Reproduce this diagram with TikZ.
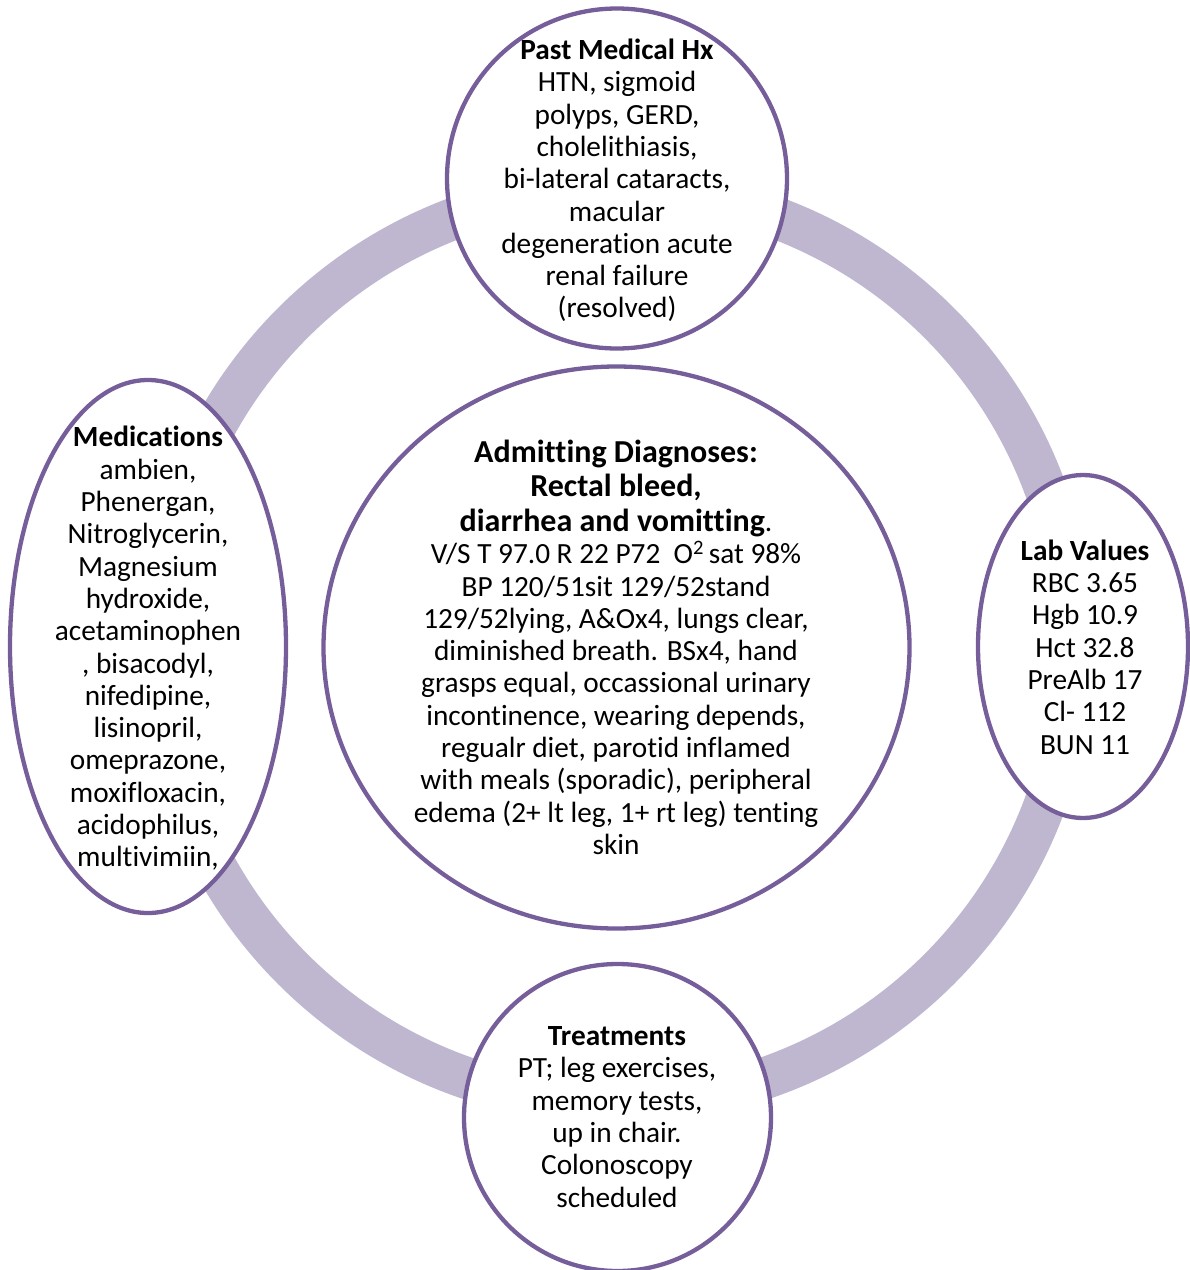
\documentclass[tikz,border=0pt]{standalone}
\usepackage{fontspec}
\setmainfont{Carlito}[RawFeature={-liga;-clig}]
\usetikzlibrary{shapes.geometric}
\definecolor{ringfill}{HTML}{BFB7D0}
\definecolor{rimline}{HTML}{765E9B}
\tikzset{
  rim/.style={draw=rimline, line width=4.3bp, fill=white, inner sep=0pt},
  roundbox/.style={rim, circle},
  ovalbox/.style={rim, ellipse},
  ringband/.style={draw=ringfill, line width=42bp},
  boxtext/.style={align=center, inner sep=0pt, font=\fontsize{29.3bp}{32.3bp}\selectfont, text=black}
}
\newcommand{\bigbold}[1]{{\fontsize{32bp}{34.5bp}\selectfont\bfseries #1}}
\begin{document}
\begin{tikzpicture}[x=1bp,y=-1bp]
\useasboundingbox (0,0) rectangle (1190,1270);
\clip (0,0) rectangle (1190,1270);
\coordinate (ringc) at (616,646);
\draw[ringband] (ringc) circle (457);
% shapes
\node[roundbox, minimum size=340bp] (pmh) at (617,178.5) {};
\node[ovalbox, minimum width=586bp, minimum height=562bp] (adm) at (616.5,647.5) {};
\node[ovalbox, minimum width=276bp, minimum height=533bp] (med) at (148,646.5) {};
\node[ovalbox, minimum width=210bp, minimum height=343bp] (lab) at (1083,646.5) {};
\node[roundbox, minimum size=307bp] (trt) at (617.5,1117.5) {};
% texts
\node[boxtext] (pmhtext) at (617,180.5) {\textbf{Past Medical Hx}\\HTN, sigmoid\\polyps, GERD,\\cholelithiasis,\\bi-lateral cataracts,\\macular\\degeneration acute\\renal failure\\(resolved)};
\node[boxtext] (admtext) at (616,647.3) {\bigbold{Admitting Diagnoses:}\\[2.2bp]\bigbold{Rectal bleed,}\\[2.2bp]\bigbold{diarrhea and vomitting}.\\V/S T 97.0 R 22 P72\ \ O\textsuperscript{2}\,sat 98\%\\BP 120/51sit 129/52stand\\129/52lying, A\&Ox4, lungs clear,\\diminished breath. BSx4, hand\\grasps equal, occassional urinary\\incontinence, wearing depends,\\regualr diet, parotid inflamed\\with meals (sporadic), peripheral\\edema (2+ lt leg, 1+ rt leg) tenting\\skin};
\node[boxtext] (medtext) at (148,648.5) {\textbf{Medications}\\ambien,\\Phenergan,\\Nitroglycerin,\\Magnesium\\hydroxide,\\acetaminophen\\, bisacodyl,\\nifedipine,\\lisinopril,\\omeprazone,\\moxifloxacin,\\acidophilus,\\multivimiin,};
\node[boxtext] (labtext) at (1085,647) {\textbf{Lab Values}\\RBC 3.65\\Hgb 10.9\\Hct 32.8\\PreAlb 17\\Cl- 112\\BUN 11};
\node[boxtext] (trttext) at (617,1117) {\textbf{Treatments}\\PT; leg exercises,\\memory tests,\\up in chair.\\Colonoscopy\\scheduled};
\end{tikzpicture}
\end{document}
